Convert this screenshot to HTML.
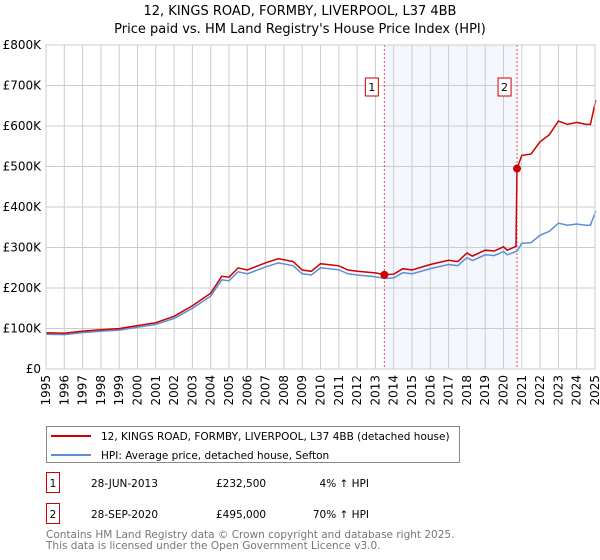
<!DOCTYPE html>
<html><head><meta charset="utf-8"><style>
body{margin:0;background:#fff;font-family:"Liberation Sans","DejaVu Sans",sans-serif;}
#wrap{position:relative;width:600px;height:560px;overflow:hidden;}
text{font-family:"DejaVu Sans","Liberation Sans",sans-serif;}
</style></head><body><div id="wrap">
<svg id="svg" width="600" height="560"></svg>
</div>
<script>
const years=[1995,1996,1997,1998,1999,2000,2001,2002,2003,2004,2004.6,2005,2005.5,2006,2007,2007.7,2008.5,2009,2009.5,2010,2011,2011.5,2012,2013,2013.49,2014,2014.5,2015,2016,2017,2017.5,2018,2018.3,2019,2019.5,2020,2020.2,2020.74,2021,2021.5,2022,2022.5,2023,2023.5,2024,2024.5,2024.75,2025,2025.05];
const hpi=[86,85,90,93,96,103,110,125,150,180,220,218,240,235,252,262,255,235,232,250,245,235,232,228,223.5,225,238,235,248,258,255,275,268,282,280,290,282,291,310,312,330,340,360,355,358,355,355,385,390];
const saleYears=[2013.49,2020.74];
const salePrices=[232.5,495];
const saleLabels=["1","2"];
const yTicks=[0,100,200,300,400,500,600,700,800];
const yTickLabels=["£0","£100K","£200K","£300K","£400K","£500K","£600K","£700K","£800K"];
const xTicks=[1995,1996,1997,1998,1999,2000,2001,2002,2003,2004,2005,2006,2007,2008,2009,2010,2011,2012,2013,2014,2015,2016,2017,2018,2019,2020,2021,2022,2023,2024,2025];

const NS="http://www.w3.org/2000/svg";
const svg=document.getElementById('svg');
const L=46,R=595,T=45,B=369;
const X=y=>L+(y-1995)/30*(R-L);
const Y=v=>B-v/800*(B-T);
function el(tag,a,parent){const e=document.createElementNS(NS,tag);for(const k in a)e.setAttribute(k,a[k]);(parent||svg).appendChild(e);return e;}

let t=el('text',{x:300,y:15,'text-anchor':'middle','font-size':13});t.textContent="12, KINGS ROAD, FORMBY, LIVERPOOL, L37 4BB";

t=el('text',{x:300,y:33,'text-anchor':'middle','font-size':13});t.textContent="Price paid vs. HM Land Registry's House Price Index (HPI)";


let r=el('rect',{x:X(saleYears[0]),y:T,width:X(saleYears[1])-X(saleYears[0]),height:B-T,fill:'#eef2fc',opacity:0.7});

xTicks.forEach(y=>{const g=el('line',{x1:X(y),x2:X(y),y1:T,y2:B,stroke:'#cccccc','stroke-width':1});

const tx=el('text',{transform:`translate(${X(y)+4},${B+6}) rotate(-90)`,'text-anchor':'end','font-size':12});tx.textContent=y;
});
yTicks.forEach((v,i)=>{const g=el('line',{x1:L,x2:R,y1:Y(v),y2:Y(v),stroke:'#cccccc','stroke-width':1});

const tx=el('text',{x:L-5,y:Y(v)+4,'text-anchor':'end','font-size':12});tx.textContent=yTickLabels[i];
});

saleYears.forEach((s,i)=>{const l=el('line',{x1:X(s),x2:X(s),y1:T,y2:B,stroke:'#e05050','stroke-width':1,'stroke-dasharray':'2,2'});

const b=el('rect',{x:X(s)-19,y:78,width:13,height:18,fill:'#fff',stroke:'#cc0000'});

const tx=el('text',{x:X(s)-12.5,y:91,'text-anchor':'middle','font-size':11});tx.textContent=saleLabels[i];
});

function hpiAt(y){for(let i=1;i<years.length;i++){if(y<=years[i]){const f=(y-years[i-1])/(years[i]-years[i-1]);return hpi[i-1]+f*(hpi[i]-hpi[i-1]);}}return hpi[hpi.length-1];}
const bp=years.map((y,i)=>`${X(y).toFixed(1)},${Y(hpi[i]).toFixed(1)}`).join(' ');
let p=el('polyline',{points:bp,fill:'none',stroke:'#5b8fd6','stroke-width':1.5});

const ratio1=salePrices[0]/hpiAt(saleYears[0]),ratio2=salePrices[1]/hpiAt(saleYears[1]);
const rp=[];
years.forEach((y,i)=>{if(y<saleYears[1])rp.push([X(y),Y(hpi[i]*ratio1)]);});
rp.push([X(saleYears[1])-1,Y(hpiAt(saleYears[1])*ratio1)]);
years.forEach((y,i)=>{if(y>=saleYears[1])rp.push([X(y),Y(hpi[i]*ratio2)]);});
p=el('polyline',{points:rp.map(q=>q[0].toFixed(1)+','+q[1].toFixed(1)).join(' '),fill:'none',stroke:'#cc0000','stroke-width':1.5});

saleYears.forEach((s,i)=>{const c=el('circle',{cx:X(s),cy:Y(salePrices[i]),r:4,fill:'#cc0000'});
});
r=el('rect',{x:L,y:T,width:R-L,height:B-T,fill:'none',stroke:'#cccccc'});


// legend
r=el('rect',{x:46.5,y:426.5,width:413,height:36,fill:'#fff',stroke:'#888'});

[['#cc0000','12, KINGS ROAD, FORMBY, LIVERPOOL, L37 4BB (detached house)',436,'legend-entry-property'],['#5b8fd6','HPI: Average price, detached house, Sefton',455,'legend-entry-hpi']].forEach(e=>{
const l=el('line',{x1:51,x2:91,y1:e[2],y2:e[2],stroke:e[0],'stroke-width':2});
const tx=el('text',{x:101,y:e[2]+4,'font-size':10.5});tx.textContent=e[1];});

const rows=[["1","28-JUN-2013","£232,500","4% ↑ HPI",483],["2","28-SEP-2020","£495,000","70% ↑ HPI",514]];
rows.forEach(rw=>{const b=el('rect',{x:46.5,y:rw[4]-10.5,width:13,height:20,fill:'#fff',stroke:'#cc0000'});

let tx=el('text',{x:53,y:rw[4]+4,'text-anchor':'middle','font-size':10.5});tx.textContent=rw[0];
tx=el('text',{x:91,y:rw[4]+4,'font-size':10.5});tx.textContent=rw[1];
tx=el('text',{x:216,y:rw[4]+4,'font-size':10.5});tx.textContent=rw[2];
tx=el('text',{x:369,y:rw[4]+4,'text-anchor':'end','font-size':10.5});tx.textContent=rw[3];});
[["Contains HM Land Registry data © Crown copyright and database right 2025.",538],["This data is licensed under the Open Government Licence v3.0.",549]].forEach(f=>{
const tx=el('text',{x:46,y:f[1],'font-size':10.5,fill:'#777'});tx.textContent=f[0];});
</script></body></html>
